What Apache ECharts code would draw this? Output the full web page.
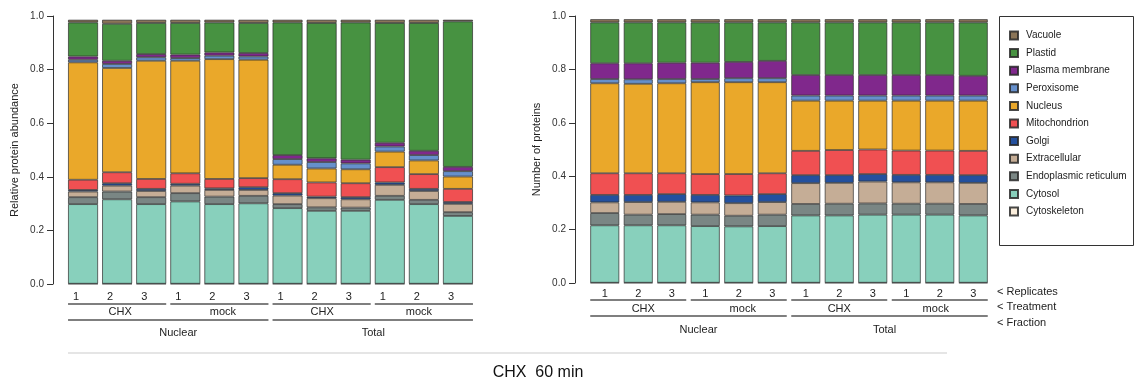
<!DOCTYPE html>
<html>
<head>
<meta charset="utf-8">
<script src="https://cdn.jsdelivr.net/npm/echarts@6/dist/echarts.min.js"></script>
<style>
html,body{margin:0;padding:0;background:#fff;}
#chart{width:1137px;height:383px;}
</style>
</head>
<body>
<div id="chart"></div>
<script>
// ---------- data ----------
const replicates = ['1','2','3','1','2','3','1','2','3','1','2','3'];
const treatments = ['CHX','mock','CHX','mock'];
const fractions = ['Nuclear','Total'];
const compartments = ['Cytoskeleton','Cytosol','Endoplasmic reticulum','Extracellular','Golgi','Mitochondrion','Nucleus','Peroxisome','Plasma membrane','Plastid','Vacuole'];
const legendOrder = ['Vacuole','Plastid','Plasma membrane','Peroxisome','Nucleus','Mitochondrion','Golgi','Extracellular','Endoplasmic reticulum','Cytosol','Cytoskeleton'];
const yTicks = [0, 0.2, 0.4, 0.6, 0.8, 1.0];

// Relative protein abundance (left panel)
const abCytoskeleton = [0.001,0.001,0.001,0.001,0.001,0.001,0.001,0.001,0.001,0.001,0.001,0.001];
const abCytosol      = [0.297,0.315,0.297,0.307,0.297,0.300,0.282,0.272,0.272,0.313,0.297,0.253];
const abER           = [0.026,0.029,0.026,0.031,0.028,0.028,0.015,0.013,0.012,0.015,0.016,0.014];
const abExtracell    = [0.021,0.022,0.023,0.028,0.025,0.022,0.032,0.034,0.031,0.041,0.033,0.031];
const abGolgi        = [0.006,0.009,0.008,0.007,0.006,0.010,0.009,0.006,0.008,0.009,0.008,0.007];
const abMito         = [0.038,0.041,0.037,0.039,0.035,0.034,0.052,0.053,0.052,0.057,0.055,0.049];
const abNucleus      = [0.438,0.389,0.441,0.420,0.447,0.442,0.054,0.052,0.052,0.058,0.051,0.046];
const abPerox        = [0.010,0.015,0.013,0.010,0.013,0.012,0.021,0.024,0.022,0.019,0.020,0.020];
const abPM           = [0.012,0.012,0.012,0.013,0.012,0.013,0.015,0.014,0.014,0.014,0.016,0.016];
const abPlastid      = [0.127,0.138,0.116,0.118,0.112,0.112,0.495,0.505,0.512,0.447,0.477,0.543];
const abVacuole      = [0.010,0.015,0.012,0.012,0.010,0.012,0.010,0.012,0.010,0.012,0.012,0.006];

// Number of proteins (right panel)
const nCytoskeleton = [0.001,0.001,0.001,0.001,0.001,0.001,0.001,0.001,0.001,0.001,0.001,0.001];
const nCytosol      = [0.215,0.215,0.215,0.212,0.211,0.212,0.252,0.252,0.255,0.255,0.255,0.252];
const nER           = [0.046,0.040,0.042,0.043,0.040,0.043,0.043,0.044,0.042,0.041,0.041,0.043];
const nExtracell    = [0.040,0.047,0.046,0.046,0.047,0.047,0.078,0.078,0.082,0.080,0.080,0.079];
const nGolgi        = [0.028,0.027,0.029,0.028,0.029,0.030,0.030,0.029,0.028,0.028,0.028,0.029];
const nMito         = [0.081,0.081,0.078,0.078,0.080,0.078,0.091,0.094,0.092,0.091,0.091,0.091];
const nNucleus      = [0.337,0.335,0.337,0.344,0.344,0.341,0.188,0.185,0.183,0.187,0.187,0.188];
const nPerox        = [0.016,0.017,0.016,0.012,0.015,0.015,0.019,0.019,0.019,0.019,0.019,0.019];
const nPM           = [0.059,0.060,0.061,0.061,0.061,0.065,0.077,0.077,0.077,0.077,0.077,0.074];
const nPlastid      = [0.153,0.153,0.151,0.151,0.148,0.144,0.197,0.197,0.197,0.197,0.197,0.200];
const nVacuole      = [0.012,0.012,0.012,0.012,0.012,0.012,0.012,0.012,0.012,0.012,0.012,0.012];

// ---------- styling ----------
const colors = {
  'Cytoskeleton':'#fbeedc','Cytosol':'#88d0bc','Endoplasmic reticulum':'#7a8684','Extracellular':'#c5ad96',
  'Golgi':'#24509e','Mitochondrion':'#f05052','Nucleus':'#eaa82a','Peroxisome':'#6690cc',
  'Plasma membrane':'#80288c','Plastid':'#479241','Vacuole':'#8b7558'
};
const leftData = [abCytoskeleton,abCytosol,abER,abExtracell,abGolgi,abMito,abNucleus,abPerox,abPM,abPlastid,abVacuole];
const rightData = [nCytoskeleton,nCytosol,nER,nExtracell,nGolgi,nMito,nNucleus,nPerox,nPM,nPlastid,nVacuole];

const FONT = 'Liberation Sans, Arial, sans-serif';
const chart = echarts.init(document.getElementById('chart'), null, {renderer:'canvas'});

function yAxis(gridIndex, name){
  return {
    type:'value', gridIndex, min:0, max:1, interval:0.2, offset:13,
    name, nameLocation:'middle', nameGap:33,
    nameTextStyle:{fontFamily:FONT, fontSize:11, color:'#222'},
    axisLine:{show:true, lineStyle:{color:'#333', width:1}},
    axisTick:{show:true, length:6, lineStyle:{color:'#333'}},
    axisLabel:{fontFamily:FONT, fontSize:10, color:'#333', margin:9, formatter:v=>v.toFixed(1)},
    splitLine:{show:false}
  };
}
function xAxis(gridIndex, margin, pad){
  return {
    type:'category', gridIndex, data:replicates,
    axisLine:{show:false}, axisTick:{show:false},
    axisLabel:{fontFamily:FONT, fontSize:11, color:'#222', margin, padding:[0,pad,0,0]}
  };
}

const series = [];
[[leftData,0,30],[rightData,1,29]].forEach(([arr, gi, bw])=>{
  compartments.forEach((c, k)=>{
    series.push({
      type:'bar', name:c, stack:'s'+gi, xAxisIndex:gi, yAxisIndex:gi,
      barWidth:bw, data:arr[k],
      itemStyle:{color:colors[c], borderColor:'rgba(40,40,40,0.85)', borderWidth:0.8},
      emphasis:{disabled:true}
    });
  });
});

chart.setOption({
  animation:false,
  grid:[
    {left:66, top:16, width:409, height:268},
    {left:588, top:16, width:402, height:267}
  ],
  xAxis:[xAxis(0,7,14), xAxis(1,5,0)],
  yAxis:[yAxis(0,'Relative protein abundance'), yAxis(1,'Number of proteins')],
  legend:{
    data:legendOrder, orient:'vertical', left:1004, top:24,
    itemWidth:8, itemHeight:8, itemGap:4.6,
    icon:'rect',
    textStyle:{fontFamily:FONT, fontSize:10, color:'#222', lineHeight:13, padding:[0,0,0,3]},
    selectedMode:false
  },
  series
});

// ---------- group annotations using axis pixel positions ----------
function groupLines(gi, bw, yT, yF, treatOff, fracOff, yTtext, yFtext){
  const els = [];
  const cx = i => chart.convertToPixel({xAxisIndex:gi}, i);
  for (let g=0; g<4; g++){
    const x1 = cx(g*3) - bw/2, x2 = cx(g*3+2) + bw/2;
    els.push({type:'line', shape:{x1, y1:yT, x2, y2:yT}, style:{stroke:'#555', lineWidth:1.3}});
    els.push({type:'text', x:(x1+x2)/2 + treatOff[g], y:yTtext,
      style:{text:treatments[g], font:'11px '+FONT, fill:'#222', textAlign:'center', textVerticalAlign:'middle'}});
  }
  for (let f=0; f<2; f++){
    const x1 = cx(f*6) - bw/2, x2 = cx(f*6+5) + bw/2;
    els.push({type:'line', shape:{x1, y1:yF, x2, y2:yF}, style:{stroke:'#555', lineWidth:1.3}});
    els.push({type:'text', x:(x1+x2)/2 + fracOff[f], y:yFtext,
      style:{text:fractions[f], font:'11px '+FONT, fill:'#222', textAlign:'center', textVerticalAlign:'middle'}});
  }
  return els;
}

const graphics = []
  .concat(groupLines(0, 30, 304, 320, [3,3.5,0.5,-5], [10,0.5], 312, 333))
  .concat(groupLines(1, 29, 300, 316, [5,4,0,-4], [10,-5], 308.5, 330));

['< Replicates','< Treatment','< Fraction'].forEach((t,i)=>{
  graphics.push({type:'text', x:997, y:[292,307,323][i],
    style:{text:t, font:'11px '+FONT, fill:'#222', textAlign:'left', textVerticalAlign:'middle'}});
});
graphics.push({type:'rect', shape:{x:999.5, y:16.5, width:134, height:229}, style:{fill:'none', stroke:'#333', lineWidth:1}, z:-1});
graphics.push({type:'line', shape:{x1:68, y1:353, x2:947, y2:353}, style:{stroke:'#dcdcdc', lineWidth:1.3}});
graphics.push({type:'text', x:538, y:373,
  style:{text:'CHX  60 min', font:'16px '+FONT, fill:'#111', textAlign:'center', textVerticalAlign:'middle'}});

chart.setOption({graphic:{elements:graphics}});
</script>
</body>
</html>
